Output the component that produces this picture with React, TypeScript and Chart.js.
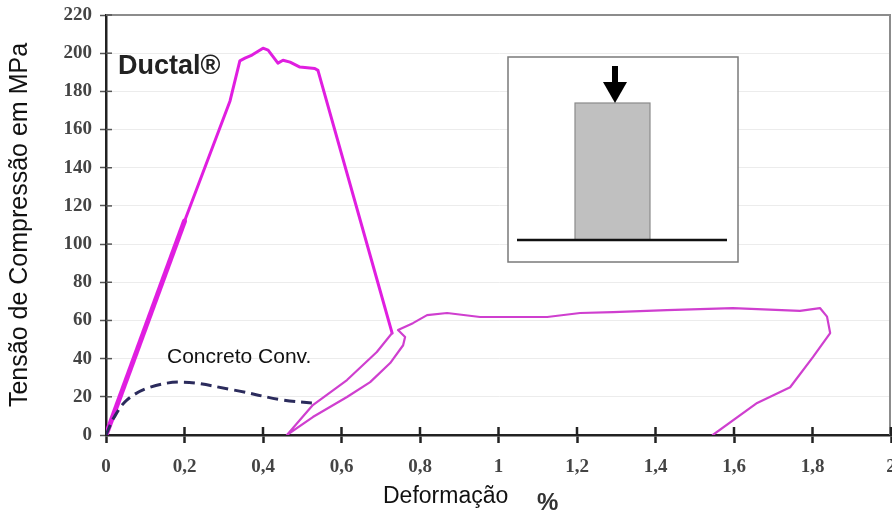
import React, { useEffect, useRef } from 'react';
import { Chart, registerables } from 'chart.js';

Chart.register(...registerables);

// ---- Data ----
const ductalX = [0, 0.1, 0.2, 0.316, 0.341, 0.354, 0.372, 0.4, 0.413, 0.438, 0.451, 0.469, 0.494, 0.532, 0.54, 0.69, 0.729, 0.69, 0.614, 0.527, 0.461, 0.527, 0.614, 0.673, 0.724, 0.757, 0.762, 0.744, 0.782, 0.818, 0.869, 0.953, 1.037, 1.124, 1.208, 1.292, 1.429, 1.597, 1.768, 1.819, 1.837, 1.845, 1.801, 1.743, 1.659, 1.546];
const ductalY = [0, 56, 112, 175, 196, 197.4, 199, 202.6, 201.6, 194.8, 196.3, 195.3, 192.7, 192, 191, 81.7, 53.4, 43.5, 28.8, 15.7, 0, 9.4, 19.9, 27.7, 37.7, 47, 51.3, 55, 58.6, 62.8, 63.9, 61.8, 61.8, 61.8, 63.9, 64.4, 65.4, 66.5, 65, 66.5, 62, 53.4, 40.8, 25, 16.8, 0];

const concretoX = [0, 0.02, 0.053, 0.112, 0.196, 0.324, 0.451, 0.54];
const concretoY = [0, 9, 18.3, 25, 27.7, 23.6, 18.3, 16.5];

const seriesNames = ['Ductal®', 'Concreto Conv.'];
const xTickLabels = ['0', '0,2', '0,4', '0,6', '0,8', '1', '1,2', '1,4', '1,6', '1,8', '2'];
const yTickLabels = ['0', '20', '40', '60', '80', '100', '120', '140', '160', '180', '200', '220'];
const yTitle = 'Tensão de Compressão em MPa';
const xTitle = 'Deformação';
const xUnit = '%';

const SANS = '"Liberation Sans", Arial, sans-serif';
const SERIF = '"Liberation Serif", "Times New Roman", serif';

const decorPlugin = {
  id: 'decor',
  beforeDraw(chart: any) {
    const { ctx, width, height } = chart;
    ctx.save();
    ctx.fillStyle = '#ffffff';
    ctx.fillRect(0, 0, width, height);
    ctx.restore();
  },
  beforeDatasetsDraw(chart: any) {
    const { ctx, chartArea: ca } = chart;
    const xs = chart.scales.x;
    const ys = chart.scales.y;
    ctx.save();
    // top & right frame
    ctx.strokeStyle = '#8c8c8c';
    ctx.lineWidth = 2;
    ctx.beginPath();
    ctx.moveTo(ca.left, ca.top);
    ctx.lineTo(ca.right - 1, ca.top);
    ctx.lineTo(ca.right - 1, ca.bottom);
    ctx.stroke();
    // inner tick marks
    ctx.strokeStyle = '#222';
    ctx.lineWidth = 2.5;
    xs.ticks.forEach((_t: any, i: number) => {
      if (i === 0) return;
      const px = xs.getPixelForTick(i);
      ctx.beginPath();
      ctx.moveTo(px, ca.bottom);
      ctx.lineTo(px, ca.bottom - 8);
      ctx.stroke();
    });
    ctx.strokeStyle = '#555';
    ctx.lineWidth = 1.5;
    ys.ticks.forEach((_t: any, i: number) => {
      if (i === 0) return;
      const py = ys.getPixelForTick(i);
      ctx.beginPath();
      ctx.moveTo(ca.left, py);
      ctx.lineTo(ca.left + 6, py);
      ctx.stroke();
    });
    ctx.restore();
  },
  afterDatasetsDraw(chart: any) {
    const { ctx, chartArea: ca } = chart;
    ctx.save();
    // inset diagram
    const bx = ca.left + 402, by = ca.top + 42, bw = 230, bh = 205;
    ctx.fillStyle = '#ffffff';
    ctx.fillRect(bx, by, bw, bh);
    ctx.strokeStyle = '#7a7a7a';
    ctx.lineWidth = 1.5;
    ctx.strokeRect(bx, by, bw, bh);
    // specimen
    ctx.fillStyle = '#c0c0c0';
    ctx.fillRect(bx + 67, by + 46, 75, 137);
    ctx.strokeStyle = '#8a8a8a';
    ctx.lineWidth = 1.2;
    ctx.strokeRect(bx + 67, by + 46, 75, 137);
    // base line
    ctx.strokeStyle = '#111';
    ctx.lineWidth = 2.5;
    ctx.beginPath();
    ctx.moveTo(bx + 9, by + 183);
    ctx.lineTo(bx + 219, by + 183);
    ctx.stroke();
    // arrow
    const ax = bx + 107;
    ctx.fillStyle = '#000';
    ctx.fillRect(ax - 3, by + 9, 6, 18);
    ctx.beginPath();
    ctx.moveTo(ax - 12, by + 25);
    ctx.lineTo(ax + 12, by + 25);
    ctx.lineTo(ax, by + 46);
    ctx.closePath();
    ctx.fill();

    // labels
    ctx.textBaseline = 'middle';
    ctx.textAlign = 'left';
    ctx.fillStyle = '#222';
    ctx.font = `bold 27px ${SANS}`;
    ctx.fillText(seriesNames[0], ca.left + 12, ca.top + 52);
    ctx.fillStyle = '#111';
    ctx.font = `21px ${SANS}`;
    ctx.fillText(seriesNames[1], ca.left + 61, ca.top + 342);
    // x axis title
    ctx.fillStyle = '#111';
    ctx.font = `23px ${SANS}`;
    ctx.fillText(xTitle, ca.left + 277, ca.bottom + 62);
    ctx.fillStyle = '#333';
    ctx.font = `bold 24px ${SANS}`;
    ctx.fillText(xUnit, ca.left + 431, ca.bottom + 68);
    ctx.restore();
  },
};

export default function App() {
  const canvasRef = useRef<HTMLCanvasElement | null>(null);

  useEffect(() => {
    const canvas = canvasRef.current;
    if (!canvas) return;
    const chart = new Chart(canvas, {
      type: 'scatter',
      data: {
        datasets: [
          {
            label: seriesNames[1],
            data: concretoX.map((x, i) => ({ x, y: concretoY[i] })),
            showLine: true,
            borderColor: '#2b2b5c',
            borderWidth: 3,
            borderDash: [11, 6],
            pointRadius: 0,
            tension: 0.35,
            fill: false,
          },
          {
            label: seriesNames[0],
            data: ductalX.map((x, i) => ({ x, y: ductalY[i] })),
            showLine: true,
            borderColor: '#dd22dd',
            borderWidth: 3,
            pointRadius: 0,
            tension: 0,
            fill: false,
            borderJoinStyle: 'round',
            borderCapStyle: 'round',
            segment: {
              borderWidth: (c: any) => (c.p0DataIndex < 2 ? 5 : c.p0DataIndex < 16 ? 3 : 2.2),
              borderColor: (c: any) => (c.p0DataIndex < 16 ? '#e01ee0' : '#cf3fcf'),
            },
          },
        ],
      },
      options: {
        responsive: false,
        animation: false,
        devicePixelRatio: 1,
        layout: { padding: { top: 15, right: 1, left: 0, bottom: 0 } },
        plugins: {
          legend: { display: false },
          tooltip: { enabled: false },
        },
        scales: {
          x: {
            type: 'linear',
            min: 0,
            max: 2,
            ticks: {
              stepSize: 0.2,
              padding: 13,
              color: '#444',
              font: { family: SERIF, size: 19, weight: 'bold' },
              maxRotation: 0,
              autoSkip: false,
              callback: (v: any) => xTickLabels[Math.round(Number(v) * 5)] ?? '',
            },
            grid: {
              drawOnChartArea: false,
              drawTicks: true,
              tickLength: 8,
              tickColor: '#222',
              tickWidth: 2.5,
            },
            border: { display: true, color: '#222', width: 2.5 },
            afterFit: (s: any) => {
              s.height = 80;
              s.paddingLeft = 0;
              s.paddingRight = 0;
            },
          },
          y: {
            type: 'linear',
            min: 0,
            max: 220,
            ticks: {
              stepSize: 20,
              padding: 8,
              color: '#444',
              font: { family: SERIF, size: 19, weight: 'bold' },
              autoSkip: false,
              callback: (v: any) => yTickLabels[Math.round(Number(v) / 20)] ?? '',
            },
            grid: {
              color: '#ececec',
              lineWidth: 1,
              drawTicks: true,
              tickLength: 6,
              tickColor: '#555',
              tickWidth: 1.5,
            },
            border: { display: true, color: '#222', width: 2.5 },
            title: {
              display: true,
              text: yTitle,
              color: '#111',
              font: { family: SANS, size: 25 },
              padding: { top: 5, bottom: 0 },
            },
            afterFit: (s: any) => {
              s.width = 106;
              s.paddingTop = 0;
              s.paddingBottom = 0;
            },
          },
        },
      },
      plugins: [decorPlugin],
    });
    return () => chart.destroy();
  }, []);

  return (
    <div style={{ position: 'fixed', left: 0, top: 0, width: 892, height: 515, background: '#fff' }}>
      <canvas ref={canvasRef} width={892} height={515} style={{ width: 892, height: 515, display: 'block' }} />
    </div>
  );
}
